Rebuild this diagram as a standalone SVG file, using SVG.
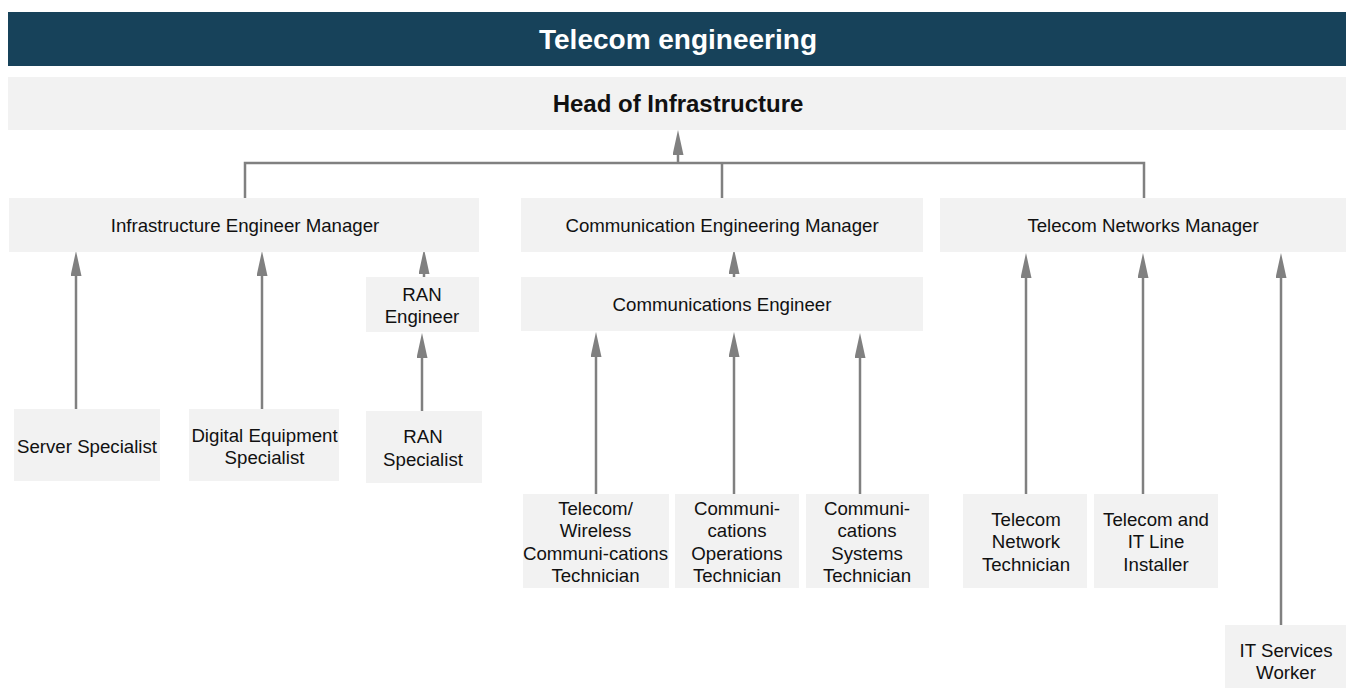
<svg xmlns="http://www.w3.org/2000/svg" width="1346" height="688" viewBox="0 0 1346 688">
<defs>
<style>
.box{fill:#f2f2f2}
.t{font-family:"Liberation Sans",Arial,sans-serif;font-size:18.67px;fill:#111;text-anchor:middle}
.conn{stroke:#808080;stroke-width:2.5;fill:none}
.arr{stroke:#808080;stroke-width:2.5;fill:none;marker-end:url(#ah)}
</style>
<marker id="ah" markerUnits="userSpaceOnUse" markerWidth="26" markerHeight="12" refX="0" refY="5.5" orient="auto">
<path d="M0,0 L25,5.5 L0,11 z" fill="#808080"/>
</marker>
</defs>
<rect width="1346" height="688" fill="#ffffff"/>
<g id="title">
<rect x="8" y="12" width="1338" height="54" fill="#17425a"/>
<text x="678" y="49" font-family="Liberation Sans,Arial,sans-serif" font-size="28" font-weight="bold" fill="#ffffff" text-anchor="middle">Telecom engineering</text>
</g>
<g id="head">
<rect class="box" x="8" y="77" width="1338" height="53"/>
<text x="678" y="112" font-family="Liberation Sans,Arial,sans-serif" font-size="24" font-weight="bold" fill="#111" text-anchor="middle">Head of Infrastructure</text>
</g>
<g id="connectors">
<path class="conn" d="M245,198 V163 H1144 V198 M722,163 V198"/>
<path class="arr" d="M678,163 V155"/>
<path class="arr" d="M424,277 V274"/>
<path class="arr" d="M76,409 V276"/>
<path class="arr" d="M262,409 V276"/>
<path class="arr" d="M422,411 V358"/>
<path class="arr" d="M734,277 V274"/>
<path class="arr" d="M596,494 V357"/>
<path class="arr" d="M734,494 V357"/>
<path class="arr" d="M860,494 V358"/>
<path class="arr" d="M1026,494 V278"/>
<path class="arr" d="M1143,494 V278"/>
<path class="arr" d="M1281,625 V278"/>
</g>
<g id="infra-manager">
<rect class="box" x="9" y="198" width="470" height="54"/>
<text class="t" x="245" y="232">Infrastructure Engineer Manager</text>
</g>
<g id="comm-manager">
<rect class="box" x="521" y="198" width="402" height="54"/>
<text class="t" x="722" y="232">Communication Engineering Manager</text>
</g>
<g id="tn-manager">
<rect class="box" x="940" y="198" width="406" height="54"/>
<text class="t" x="1143" y="232">Telecom Networks Manager</text>
</g>
<g id="ran-engineer">
<rect class="box" x="366" y="277" width="113" height="55"/>
<text class="t" x="422" y="301">RAN</text>
<text class="t" x="422" y="323">Engineer</text>
</g>
<g id="server-specialist">
<rect class="box" x="14" y="409" width="146" height="72"/>
<text class="t" x="87" y="453">Server Specialist</text>
</g>
<g id="digital-equipment-specialist">
<rect class="box" x="189" y="409" width="150" height="72"/>
<text class="t" x="264.5" y="442">Digital Equipment</text>
<text class="t" x="264.5" y="464">Specialist</text>
</g>
<g id="ran-specialist">
<rect class="box" x="366" y="411" width="116" height="72"/>
<text class="t" x="423" y="443">RAN</text>
<text class="t" x="423" y="466">Specialist</text>
</g>
<g id="comm-engineer">
<rect class="box" x="521" y="277" width="402" height="54"/>
<text class="t" x="722" y="311">Communications Engineer</text>
</g>
<g id="telecom-wireless-tech">
<rect class="box" x="523" y="494" width="146" height="94"/>
<text class="t" x="595.5" y="515">Telecom/</text>
<text class="t" x="595.5" y="537">Wireless</text>
<text class="t" x="595.5" y="560">Communi-cations</text>
<text class="t" x="595.5" y="582">Technician</text>
</g>
<g id="comm-operations-tech">
<rect class="box" x="675" y="494" width="124" height="94"/>
<text class="t" x="737" y="515">Communi-</text>
<text class="t" x="737" y="537">cations</text>
<text class="t" x="737" y="560">Operations</text>
<text class="t" x="737" y="582">Technician</text>
</g>
<g id="comm-systems-tech">
<rect class="box" x="806" y="494" width="123" height="94"/>
<text class="t" x="867" y="515">Communi-</text>
<text class="t" x="867" y="537">cations</text>
<text class="t" x="867" y="560">Systems</text>
<text class="t" x="867" y="582">Technician</text>
</g>
<g id="telecom-network-tech">
<rect class="box" x="963" y="494" width="124" height="94"/>
<text class="t" x="1026" y="526">Telecom</text>
<text class="t" x="1026" y="548">Network</text>
<text class="t" x="1026" y="571">Technician</text>
</g>
<g id="line-installer">
<rect class="box" x="1094" y="494" width="124" height="94"/>
<text class="t" x="1156" y="526">Telecom and</text>
<text class="t" x="1156" y="548">IT Line</text>
<text class="t" x="1156" y="571">Installer</text>
</g>
<g id="it-services-worker">
<rect class="box" x="1225" y="625" width="121" height="63"/>
<text class="t" x="1286" y="657">IT Services</text>
<text class="t" x="1286" y="679">Worker</text>
</g>
</svg>
